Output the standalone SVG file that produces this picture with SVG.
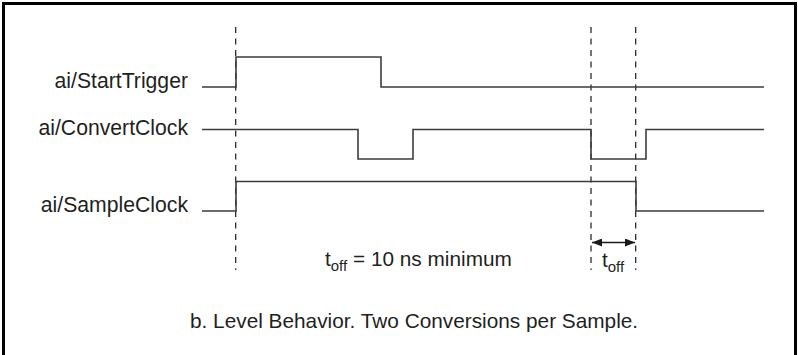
<svg xmlns="http://www.w3.org/2000/svg" width="798" height="355" viewBox="0 0 798 355">
  <defs>
    <style>
      .lbl { font-family: "Liberation Sans", Arial, Helvetica, sans-serif; font-size: 20.8px; fill: #231f20; }
      .sig { font-size: 21.2px; }
      .sub { font-size: 15px; }
      .wave { fill: none; stroke: #3c3c3c; stroke-width: 1.6; }
      .dash { fill: none; stroke: #1a1a1a; stroke-width: 1.2; stroke-dasharray: 6 5.5; }
      .arr { fill: none; stroke: #1a1a1a; stroke-width: 1.6; }
    </style>
    <marker id="ah" viewBox="0 0 10 8" refX="10" refY="4" markerWidth="10" markerHeight="8" markerUnits="userSpaceOnUse" orient="auto-start-reverse">
      <path d="M0,0 L10,4 L0,8 z" fill="#1a1a1a"/>
    </marker>
  </defs>
  <rect x="0" y="0" width="798" height="355" fill="#ffffff"/>
  <rect id="frame" x="3.5" y="3.5" width="792" height="360" fill="none" stroke="#000" stroke-width="3"/>

  <g id="connectors">
    <line class="dash" x1="235.7" y1="27" x2="235.7" y2="270"/>
    <line class="dash" x1="591" y1="27" x2="591" y2="270"/>
    <line class="dash" x1="635.7" y1="27" x2="635.7" y2="270"/>
    <line class="arr" x1="592" y1="242.5" x2="635" y2="242.5" marker-start="url(#ah)" marker-end="url(#ah)"/>
  </g>

  <g id="start-trigger">
    <text class="lbl sig" x="188" y="88" text-anchor="end">ai/StartTrigger</text>
    <polyline class="wave" points="202,87 236,87 236,57 381,57 381,87 764,87"/>
  </g>

  <g id="convert-clock">
    <text class="lbl sig" x="188" y="134.5" text-anchor="end">ai/ConvertClock</text>
    <polyline class="wave" points="202,129.5 358,129.5 358,159 413,159 413,129.5 591,129.5 591,159 646,159 646,129.5 764,129.5"/>
  </g>

  <g id="sample-clock">
    <text class="lbl sig" x="188" y="211.5" text-anchor="end">ai/SampleClock</text>
    <polyline class="wave" points="202,211 236,211 236,181.5 636,181.5 636,211 764,211"/>
  </g>

  <g id="toff-note">
    <text class="lbl" x="325" y="266">t<tspan class="sub" dy="5">off</tspan><tspan dy="-5"> = 10 ns minimum</tspan></text>
  </g>

  <g id="toff-label">
    <text class="lbl" x="602" y="266.5">t<tspan class="sub" dy="5">off</tspan></text>
  </g>

  <g id="caption">
    <text class="lbl" x="190" y="328">b. Level Behavior. Two Conversions per Sample.</text>
  </g>
</svg>
